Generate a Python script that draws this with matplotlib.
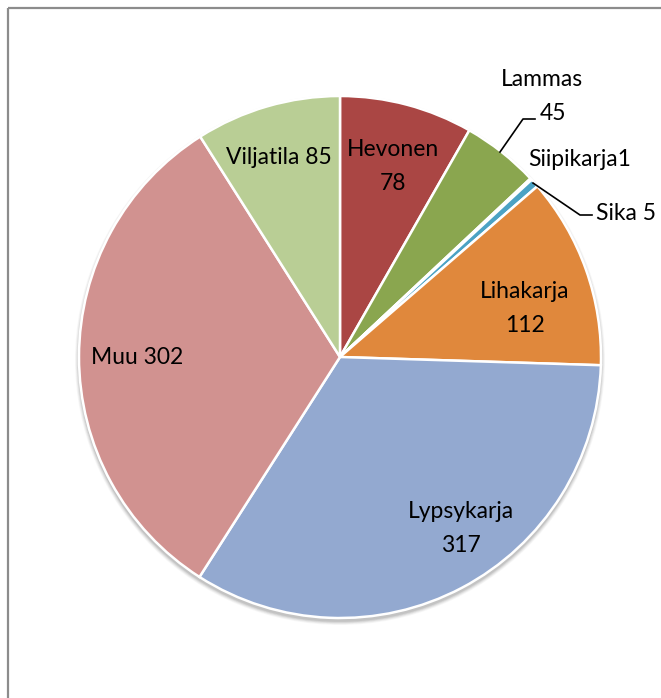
import matplotlib
matplotlib.use("Agg")
import matplotlib.pyplot as plt
from matplotlib.patches import Circle

categories = ["Hevonen", "Lammas", "Siipikarja", "Sika", "Lihakarja", "Lypsykarja", "Muu", "Viljatila"]
values = [78, 45, 1, 5, 112, 317, 302, 85]
colors = ["#AA4644", "#8AA64F", "#7E62A1", "#4BA2C4", "#E0883C", "#93A9D0", "#D19290", "#B9CE95"]

W, H = 661, 698
fig = plt.figure(figsize=(W / 100, H / 100), dpi=100)
ax = fig.add_axes([0, 0, 1, 1])

def Y(py):
    return H - py

cx, cy, r = 340, Y(357), 261

# soft shadow
for d, a in [(10, 0.03), (8, 0.04), (6, 0.05), (4, 0.06), (2, 0.07)]:
    ax.add_patch(Circle((cx, cy - 3), r + d * 0.4, color="#000000", alpha=a, lw=0, zorder=0))

wedges, _ = ax.pie(values, colors=colors, startangle=90, counterclock=False,
                   center=(cx, cy), radius=r, frame=True,
                   wedgeprops=dict(edgecolor="white", linewidth=1.8))
for w in wedges:
    w.set_zorder(2)

ax.set_xlim(0, W)
ax.set_ylim(0, H)
ax.set_aspect("equal")
ax.axis("off")

font = dict(family=["Lato", "DejaVu Sans"], fontsize=16.5, color="black",
            ha="center", va="center", zorder=5)

ax.text(393, Y(150), "Hevonen", **font)
ax.text(393, Y(184), f"{values[0]}", **font)
ax.text(542, Y(80), "Lammas", **font)
ax.text(553, Y(113), f"{values[1]}", **font)
ax.text(580, Y(160), f"Siipikarja{values[2]}", **font)
ax.text(626, Y(213), f"Sika {values[3]}", **font)
ax.text(525, Y(292), "Lihakarja", **font)
ax.text(525, Y(325), f"{values[4]}", **font)
ax.text(461, Y(512), "Lypsykarja", **font)
ax.text(461, Y(546), f"{values[5]}", **font)
ax.text(137, Y(358), f"Muu {values[6]}", **font)
ax.text(279, Y(157), f"Viljatila {values[7]}", **font)

# leader lines
ax.plot([500, 523, 535], [Y(152), Y(119), Y(119)], color="black", lw=1.2, zorder=4)
ax.plot([533, 580, 592], [Y(183), Y(215), Y(215)], color="black", lw=1.2, zorder=4)

# chart area border (top and left visible)
ax.plot([7.5, 7.5], [0, Y(7.5)], color="#8C8C8C", lw=1.6, zorder=6, solid_capstyle="butt")
ax.plot([7.5, W], [Y(7.5), Y(7.5)], color="#8C8C8C", lw=1.6, zorder=6, solid_capstyle="butt")

fig.savefig("out.png", dpi=100)
